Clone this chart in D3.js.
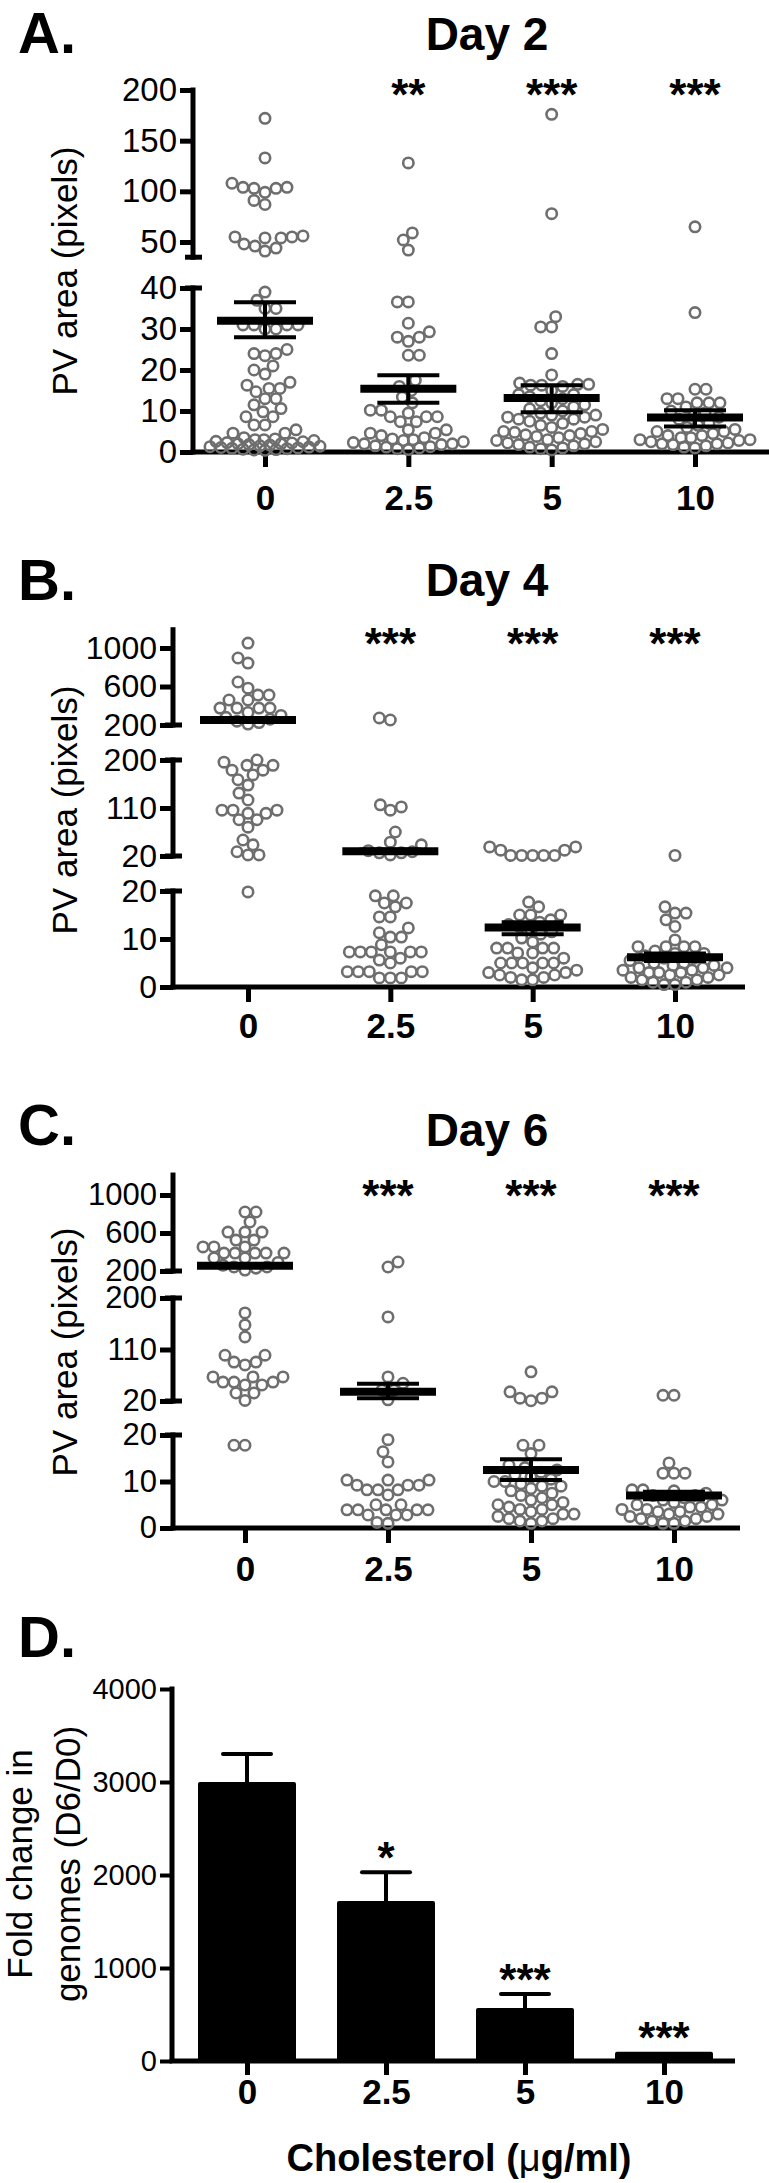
<!DOCTYPE html>
<html><head><meta charset="utf-8">
<script src="https://cdn.jsdelivr.net/npm/d3@7"></script>
<style>
body{margin:0;background:#fff}
svg text{font-family:"Liberation Sans", Arial, Helvetica, sans-serif;}
</style>
</head><body>
<svg id="chart" width="769" height="2183"></svg>
<script>
// ---------------- DATA ----------------
const categories = ["0", "2.5", "5", "10"];

// Day 2 (panel A) PV area values per cholesterol group
const day2_c0 = [172,133,108,104,104,103,103,99,91,87,56,55,55,54,54,48,46,44,41,39,37,35,35,31,31,31,31,30,30,25,24,24,23.5,21,20,19,17,16.3,15.5,15.5,14.7,13,13,11.5,10.6,9.8,8.6,8.6,6.6,6.6,5.4,4.6,4.6,3.5,3.2,3,3,2.8,2.6,2.5,2.3,2.2,2,2,1.8,1.7,1.5,1.4,1.3,1.2,1.1,1,0.9,0.8,0.7,0.6,0.5,0.4];
const day2_c25 = [128,59,52,42,36.6,36.6,31.4,29.3,28,28,27,23.6,23.6,17.5,16,15,13.4,12,10.2,10.2,9.5,8.6,8.6,8.6,7.4,7.4,5.4,5.4,4.6,4.6,4,3.5,3.2,3,2.8,2.5,2.3,2,2,1.8,1.5,1.3,1.2,1,0.8,0.6];
const day2_c5 = [176,78,33,30.5,30.5,24,18.8,16.8,16.5,16.5,16.3,16.3,16,15,14,14,13.5,13,12.5,12,11.5,11,10.5,10,9.5,9,9,8.5,8.5,8,8,7.5,7,6.5,6,5.5,5,5,4.8,4.5,4.2,4,3.8,3.5,3,2.8,2.5,2.2,2,1.8,1.5,1.2,1,0.8,0.5];
const day2_c10 = [65,34,15.3,15.3,13,13,12,12,12,11,10,9.5,9,8.5,8,7,6.5,6,5.5,5,5,4.5,4,4,3.5,3.5,3,3,2.8,2.5,2.2,2,2,1.8,1.5,1.2,1];
const day2_mean = [32, 15.4, 13.2, 8.4];
const day2_semLo = [28, 12, 9.7, 6.2];
const day2_semHi = [36.5, 18.7, 16.3, 10.2];
const day2_stars = ["", "**", "***", "***"];

// Day 4 (panel B)
const day4_c0 = [1051,896,843,647,583,511,511,460,460,376,376,376,376,330,300,280,260,240,225,210,200,196,190,190,181,181,172,163,153,138,125,106,106,106,100,100,88,88,74,50,41,28,22,22,19.8];
const day4_c25 = [273,252,116,112,106,65,46,41,30,28,26,26,22,19,19,17.5,17.5,16.7,14.6,14.6,12.3,11.3,10.4,10.4,8.8,7.3,7.3,7.3,7.3,7.3,7.3,6,5.6,5,3.2,3.2,3.2,3.2,3.2,1.9,1.9,1.9];
const day4_c5 = [37,37,31,31,21,21,21,21,21,17.7,16.7,15,15,15,14,13.5,13,12.5,12,11.5,11,10.2,9.4,8.1,8.1,8.1,8.1,7.1,7.1,6,5,5,5,5,5,4,3.5,3,3,2.5,2.5,2,2,1.5,1.5];
const day4_c10 = [21,16.7,15.4,15.4,14,12.6,9.8,8.4,8.4,8.4,8.4,7.5,7,7,6.5,6,6,5.5,5,5,4.5,4.5,4,4,4,3.5,3.5,3,3,3,2.5,2.5,2,2,1.5,1.5,1,1,0.5,0.5];
const day4_mean = [252, 29, 12.4, 6.2];
const day4_semLo = [242, 26, 11, 5.4];
const day4_semHi = [262, 32, 13.5, 7];
const day4_stars = ["", "***", "***", "***"];

// Day 6 (panel C)
const day6_c0 = [821,821,716,610,610,610,526,526,453,453,453,389,389,389,389,389,337,337,290,260,242,242,230,210,174,153,132,100,100,88,88,83,62,62,62,53,53,53,48,48,34,34,21,17.8,17.8];
const day6_c25 = [295,242,167,62,51,39,39,22,19,16.4,14.2,10.3,10.3,10.3,9.2,9.2,9.2,8.2,8.2,8.2,7.1,5,5,3.9,3.9,3.9,3.9,3.9,2.8,2.8,2.8,1.2,1];
const day6_c5 = [71,36,36,25,25,20.4,17.8,17.8,16,13.5,13,12.5,12,11.5,11,10.5,10,10,9.5,9,9,8.5,8,7.5,7,6.5,6,5.5,5,5,4.5,4,4,3.5,3,3,2.5,2,2,1.5,1.5,1];
const day6_c10 = [30,30,14,11.8,11.8,11.8,8.2,8.2,8,7.5,7,7,6.5,6,6,5.5,5,5,4.5,4.5,4,4,3.5,3.5,3,3,2.5,2.5,2,2,1.5,1.5,1,1];
const day6_mean = [255, 36, 12.5, 7];
const day6_semLo = [245, 25, 10.3, 6.2];
const day6_semHi = [265, 50, 14.8, 7.8];
const day6_stars = ["", "***", "***", "***"];

// Panel D: fold change in genomes (D6/D0)
const foldMean = [3000, 1720, 570, 100];
const foldErr = [3300, 2030, 720, 100];
const foldStars = ["", "*", "***", "***"];
const foldTicks = [0, 1000, 2000, 3000, 4000];

// ---------------- DRAWING ----------------
const svg = d3.select("#chart");
const FONT = '"Liberation Sans", Arial, Helvetica, sans-serif';
const PT = "#6e6e6e";

function swarm(ys, cx, minD, maxW) {
  const order = ys.map((y, i) => i).sort((a, b) => ys[b] - ys[a]);
  const placed = [];
  const xs = new Array(ys.length);
  let flip = 1;
  for (const i of order) {
    const y = ys[i];
    let best = null, bestAlt = 0, bestScore = -1;
    for (let k = 0; k <= maxW && best === null; k += 1) {
      const cands = k === 0 ? [0] : [k * flip, -k * flip];
      for (const s of cands) {
        let mind = Infinity;
        for (const p of placed) {
          const d = Math.hypot(p.x - s, p.y - y);
          if (d < mind) mind = d;
        }
        if (mind >= minD) { best = s; break; }
        if (mind > bestScore) { bestScore = mind; bestAlt = s; }
      }
    }
    if (best === null) best = bestAlt;
    flip = -flip;
    placed.push({x: best, y});
    xs[i] = cx + best;
  }
  return xs;
}

function scatterPanel(cfg) {
  const g = svg.append("g");
  cfg.segs.forEach(s => {
    s.scale = d3.scaleLinear().domain([s.lo, s.hi]).range([s.yLo, s.yHi]);
  });
  const yOf = v => {
    for (const s of cfg.segs) if (v <= s.hi) return s.scale(v);
    return cfg.segs[cfg.segs.length - 1].scale(v);
  };
  const x = d3.scalePoint().domain(categories).range(cfg.xRange);
  const ax = cfg.axisX;
  const x0axis = cfg.segs[0].scale(0);

  // y axis segments
  cfg.segs.forEach((s, si) => {
    const topV = s.lineTop !== undefined ? s.lineTop : s.hi;
    const botV = s.lineBot !== undefined ? s.lineBot : s.lo;
    const yT = s.scale(topV), yB = s.scale(botV);
    g.append("line").attr("x1", ax).attr("x2", ax).attr("y1", yT - 2.5).attr("y2", yB + 2.5)
      .attr("stroke", "#000").attr("stroke-width", 5);
    const a = g.append("g").attr("transform", `translate(${ax},0)`)
      .call(d3.axisLeft(s.scale).tickValues(s.ticks).tickSize(13).tickPadding(3).tickSizeOuter(0).tickFormat(d3.format("d")));
    a.select(".domain").remove();
    a.selectAll(".tick line").attr("stroke", "#000").attr("stroke-width", 5);
    a.selectAll(".tick text").attr("font-size", cfg.tickFs).attr("fill", "#000").attr("font-family", FONT);
    if (si > 0) {
      g.append("line").attr("x1", ax - 8).attr("x2", ax + 9).attr("y1", yB).attr("y2", yB).attr("stroke", "#000").attr("stroke-width", 5);
    }
    if (si < cfg.segs.length - 1) {
      g.append("line").attr("x1", ax - 8).attr("x2", ax + 9).attr("y1", yT).attr("y2", yT).attr("stroke", "#000").attr("stroke-width", 5);
    }
  });

  // x axis
  g.append("line").attr("x1", ax - 2.5).attr("x2", cfg.xEnd).attr("y1", x0axis).attr("y2", x0axis).attr("stroke", "#000").attr("stroke-width", 5);
  const xa = g.append("g").attr("transform", `translate(0,${x0axis})`)
    .call(d3.axisBottom(x).tickSize(15).tickPadding(cfg.xPad).tickSizeOuter(0));
  xa.select(".domain").remove();
  xa.selectAll(".tick line").attr("stroke", "#000").attr("stroke-width", 5);
  xa.selectAll(".tick text").attr("font-size", 35).attr("font-weight", "bold").attr("fill", "#000").attr("font-family", FONT);

  // points
  cfg.groups.forEach((vals, gi) => {
    const ys = vals.map(yOf);
    const xs = swarm(ys, x(categories[gi]), cfg.minD, cfg.maxW);
    g.append("g").selectAll("circle").data(vals).join("circle")
      .attr("cx", (d, i) => xs[i]).attr("cy", (d, i) => ys[i]).attr("r", 5.2)
      .attr("fill", "none").attr("stroke", PT).attr("stroke-width", 2.6);
  });

  // mean and SEM
  categories.forEach((c, gi) => {
    const cx = x(c);
    const ym = yOf(cfg.mean[gi]), yl = yOf(cfg.semLo[gi]), yh = yOf(cfg.semHi[gi]);
    g.append("line").attr("x1", cx).attr("x2", cx).attr("y1", yl).attr("y2", yh).attr("stroke", "#000").attr("stroke-width", 4);
    [yl, yh].forEach(yy => g.append("line").attr("x1", cx - 31).attr("x2", cx + 31).attr("y1", yy).attr("y2", yy).attr("stroke", "#000").attr("stroke-width", 4));
    g.append("line").attr("x1", cx - 48).attr("x2", cx + 48).attr("y1", ym).attr("y2", ym).attr("stroke", "#000").attr("stroke-width", 8);
    if (cfg.stars[gi]) {
      g.append("text").attr("x", cx).attr("y", cfg.starY).attr("text-anchor", "middle")
        .attr("font-size", 44).attr("font-weight", "bold").attr("font-family", FONT).text(cfg.stars[gi]);
    }
  });

  // labels
  g.append("text").attr("x", 18).attr("y", cfg.letterY).attr("font-size", 58).attr("font-weight", "bold").attr("font-family", FONT).text(cfg.letter);
  g.append("text").attr("x", 487).attr("y", cfg.titleY).attr("text-anchor", "middle").attr("font-size", 46).attr("font-weight", "bold").attr("font-family", FONT).text(cfg.title);
  g.append("text").attr("transform", `translate(77,${cfg.ylabY}) rotate(-90)`).attr("text-anchor", "middle")
    .attr("font-size", 35).attr("font-family", FONT).text("PV area (pixels)");
}

scatterPanel({
  letter: "A.", letterY: 53, title: "Day 2", titleY: 50,
  axisX: 193, xRange: [265, 695], xEnd: 769, xPad: 18, tickFs: 33,
  segs: [
    {lo: 0, hi: 40, yLo: 452, yHi: 288, ticks: [0, 10, 20, 30, 40]},
    {lo: 50, hi: 200, yLo: 242, yHi: 90, ticks: [50, 100, 150, 200], lineBot: 35}
  ],
  groups: [day2_c0, day2_c25, day2_c5, day2_c10],
  mean: day2_mean, semLo: day2_semLo, semHi: day2_semHi, stars: day2_stars, starY: 110,
  minD: 11, maxW: 55, ylabY: 271
});

scatterPanel({
  letter: "B.", letterY: 600, title: "Day 4", titleY: 596,
  axisX: 173, xRange: [248, 675], xEnd: 745, xPad: 11, tickFs: 32,
  segs: [
    {lo: 0, hi: 20, yLo: 987, yHi: 891, ticks: [0, 10, 20]},
    {lo: 20, hi: 200, yLo: 856, yHi: 760, ticks: [20, 110, 200]},
    {lo: 200, hi: 1000, yLo: 725, yHi: 648, ticks: [200, 600, 1000], lineTop: 1190}
  ],
  groups: [day4_c0, day4_c25, day4_c5, day4_c10],
  mean: day4_mean, semLo: day4_semLo, semHi: day4_semHi, stars: day4_stars, starY: 659,
  minD: 11, maxW: 52, ylabY: 810
});

scatterPanel({
  letter: "C.", letterY: 1145, title: "Day 6", titleY: 1146,
  axisX: 173, xRange: [245, 674], xEnd: 740, xPad: 13, tickFs: 31,
  segs: [
    {lo: 0, hi: 20, yLo: 1528, yHi: 1435, ticks: [0, 10, 20]},
    {lo: 20, hi: 200, yLo: 1401, yHi: 1298, ticks: [20, 110, 200]},
    {lo: 200, hi: 1000, yLo: 1271, yHi: 1195, ticks: [200, 600, 1000], lineTop: 1210}
  ],
  groups: [day6_c0, day6_c25, day6_c5, day6_c10],
  mean: day6_mean, semLo: day6_semLo, semHi: day6_semHi, stars: day6_stars, starY: 1211,
  minD: 11, maxW: 52, ylabY: 1352
});

// Panel D
(function () {
  const g = svg.append("g");
  const ax = 172;
  const y = d3.scaleLinear().domain([0, 4000]).range([2061, 1689]);
  const x = d3.scalePoint().domain(categories).range([247, 664]);
  const bw = x.step() * 0.705;
  g.append("line").attr("x1", ax).attr("x2", ax).attr("y1", y(4000) - 2.5).attr("y2", y(0)).attr("stroke", "#000").attr("stroke-width", 5);
  const a = g.append("g").attr("transform", `translate(${ax},0)`)
    .call(d3.axisLeft(y).tickValues(foldTicks).tickSize(12).tickPadding(3).tickSizeOuter(0).tickFormat(d3.format("d")));
  a.select(".domain").remove();
  a.selectAll(".tick line").attr("stroke", "#000").attr("stroke-width", 4);
  a.selectAll(".tick text").attr("font-size", 29).attr("fill", "#000").attr("font-family", FONT);

  g.append("g").selectAll("rect").data(foldMean).join("rect")
    .attr("x", (d, i) => x(categories[i]) - bw / 2).attr("width", bw)
    .attr("y", d => y(d)).attr("height", d => y(0) - y(d)).attr("rx", 2).attr("fill", "#000");
  foldErr.forEach((e, i) => {
    const cx = x(categories[i]);
    if (e > foldMean[i]) {
      g.append("line").attr("x1", cx).attr("x2", cx).attr("y1", y(foldMean[i])).attr("y2", y(e)).attr("stroke", "#000").attr("stroke-width", 4);
      g.append("line").attr("x1", cx - 24).attr("x2", cx + 24).attr("y1", y(e)).attr("y2", y(e)).attr("stroke", "#000").attr("stroke-width", 4).attr("stroke-linecap", "round");
    }
    if (foldStars[i]) {
      g.append("text").attr("x", cx).attr("y", y(e) + 1).attr("text-anchor", "middle").attr("font-size", 44)
        .attr("font-weight", "bold").attr("font-family", FONT).text(foldStars[i]);
    }
  });
  g.append("line").attr("x1", ax - 2.5).attr("x2", 735).attr("y1", y(0)).attr("y2", y(0)).attr("stroke", "#000").attr("stroke-width", 5);
  const xa = g.append("g").attr("transform", `translate(0,${y(0)})`)
    .call(d3.axisBottom(x).tickSize(14).tickPadding(4).tickSizeOuter(0));
  xa.select(".domain").remove();
  xa.selectAll(".tick line").attr("stroke", "#000").attr("stroke-width", 5);
  xa.selectAll(".tick text").attr("font-size", 35).attr("font-weight", "bold").attr("fill", "#000").attr("font-family", FONT);

  g.append("text").attr("x", 18).attr("y", 1657).attr("font-size", 58).attr("font-weight", "bold").attr("font-family", FONT).text("D.");
  const yl = g.append("text").attr("transform", "translate(0,1864) rotate(-90)").attr("text-anchor", "middle")
    .attr("font-size", 35).attr("font-family", FONT);
  yl.append("tspan").attr("x", 0).attr("y", 32).text("Fold change in");
  yl.append("tspan").attr("x", 0).attr("y", 80).text("genomes (D6/D0)");

  const xl = g.append("text").attr("x", 459).attr("y", 2171).attr("text-anchor", "middle")
    .attr("font-size", 38).attr("font-weight", "bold").attr("font-family", FONT);
  xl.append("tspan").text("Cholesterol (");
  xl.append("tspan").attr("font-weight", "normal").text("\u03bc");
  xl.append("tspan").text("g/ml)");
})();
</script>
</body></html>
